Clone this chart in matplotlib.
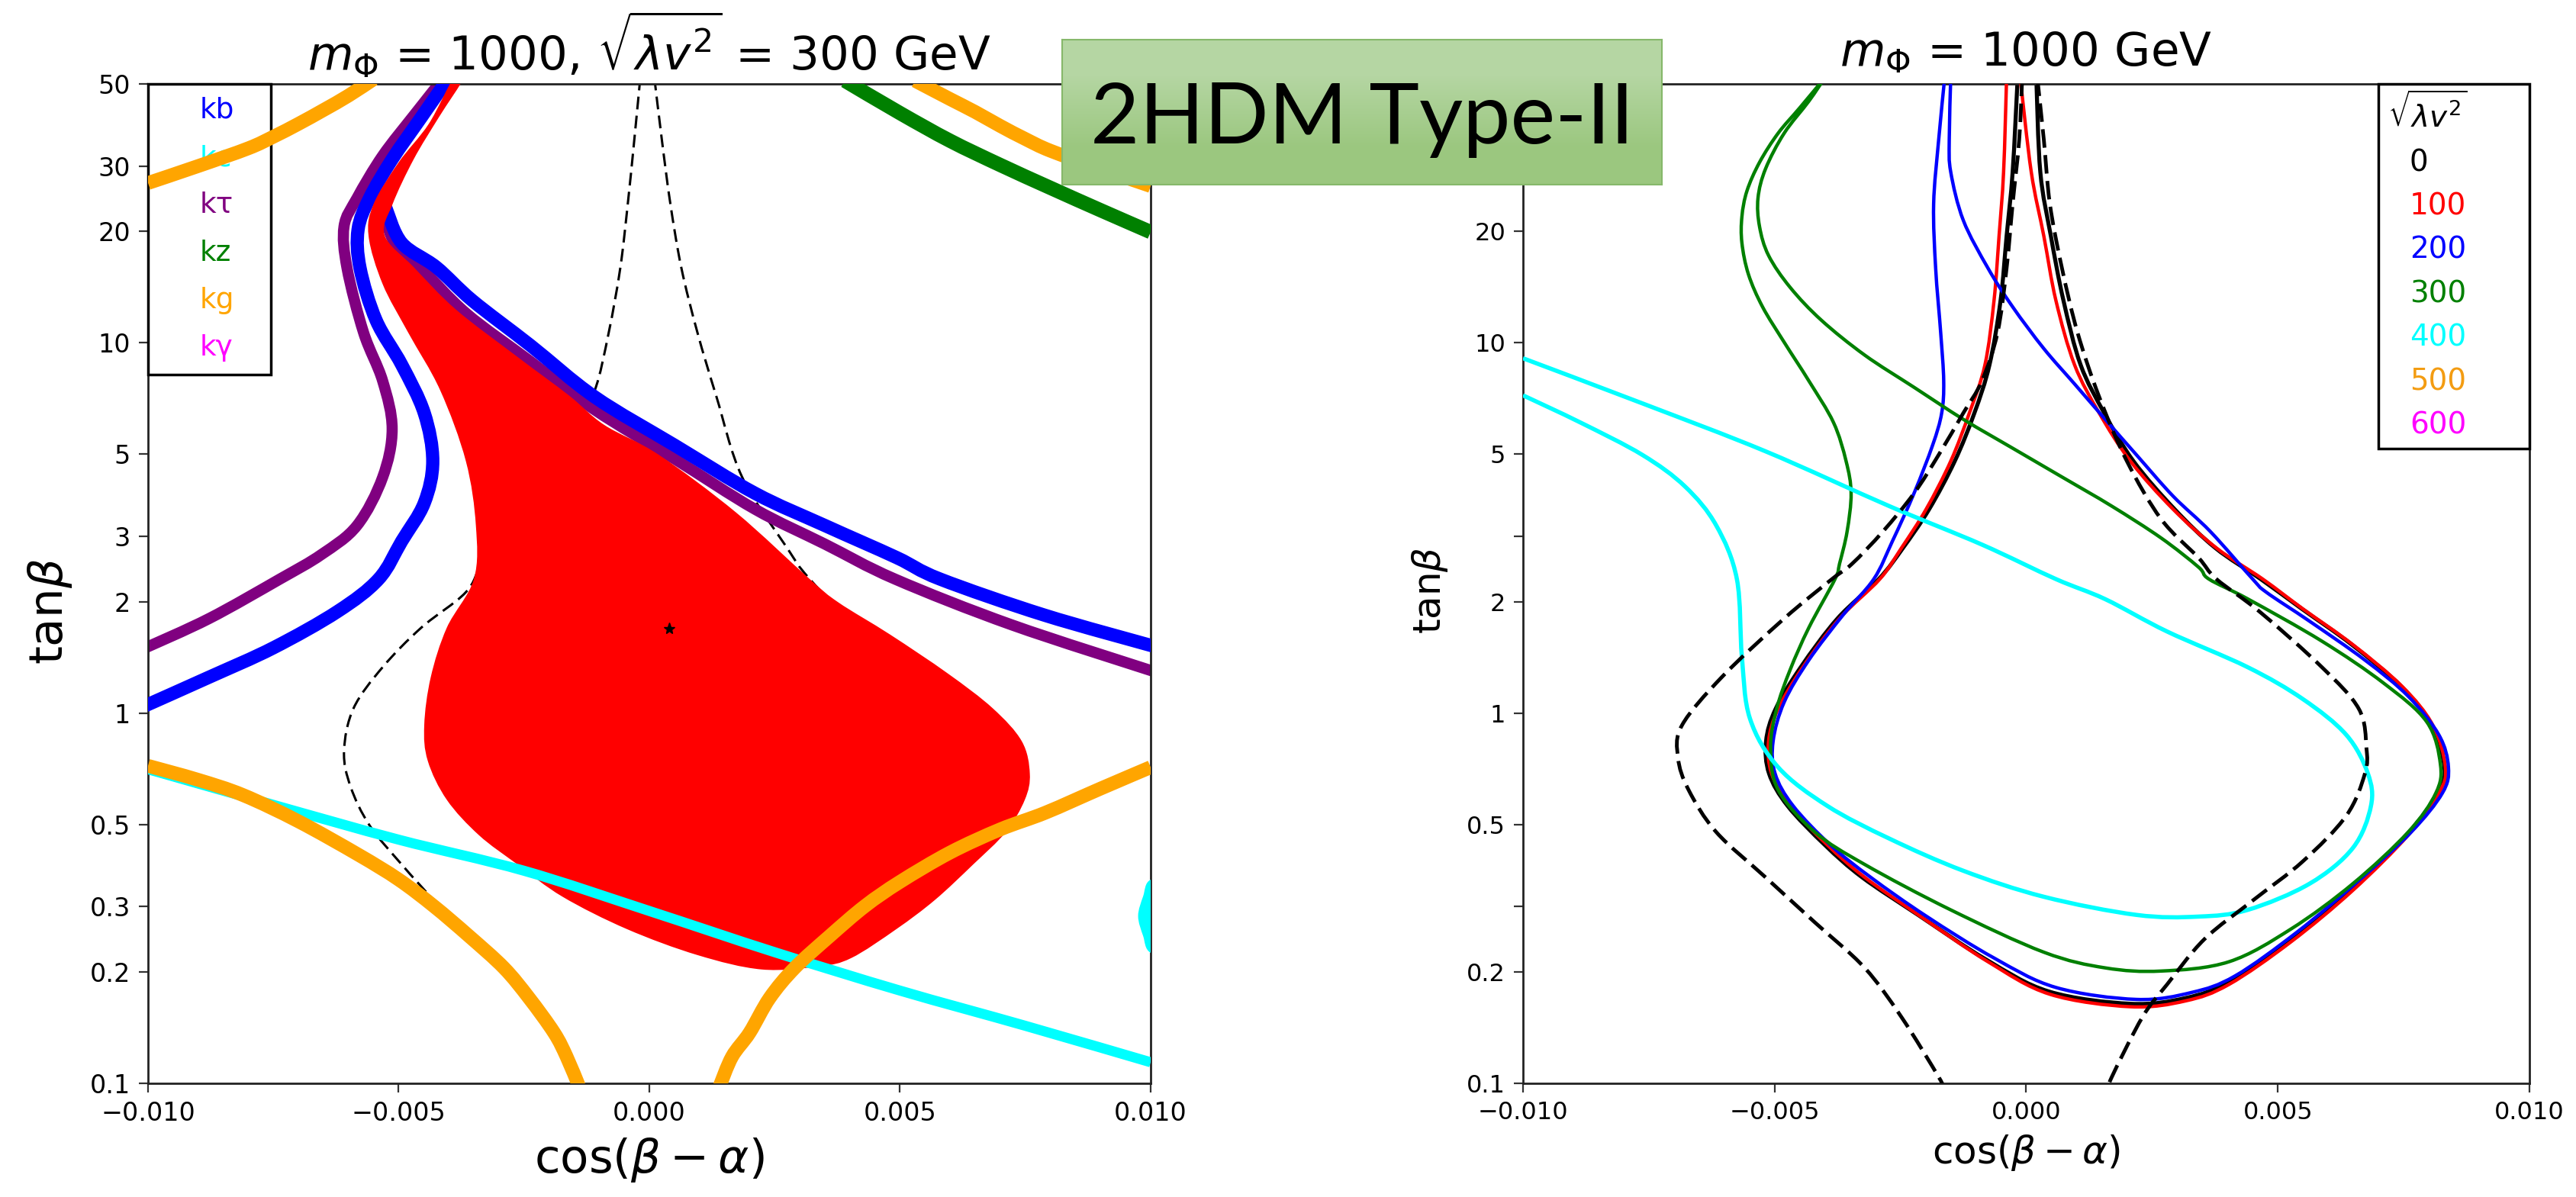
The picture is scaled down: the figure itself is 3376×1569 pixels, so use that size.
import numpy as np
import matplotlib
matplotlib.use("Agg")
import matplotlib.pyplot as plt
from matplotlib.lines import Line2D
from matplotlib.path import Path
from matplotlib.patches import PathPatch
from matplotlib.colors import LinearSegmentedColormap
from matplotlib.ticker import FixedLocator, FixedFormatter, NullLocator, FuncFormatter

plt.rcParams['font.family'] = ['DejaVu Sans']

# ---------------- common axis values
x_ticks = [-0.010, -0.005, 0.000, 0.005, 0.010]
y_ticks = [0.1, 0.2, 0.3, 0.5, 1, 2, 3, 5, 10, 20, 30, 50]
y_labels_left = ['0.1', '0.2', '0.3', '0.5', '1', '2', '3', '5', '10', '20', '30', '50']
y_labels_right = ['0.1', '0.2', '', '0.5', '1', '2', '', '5', '10', '20', '', '']

# ---------------- left panel: m_Phi = 1000, sqrt(lambda v^2) = 300 GeV
kg_ul_x = [-0.0100, -0.0090, -0.0080, -0.0075, -0.0070, -0.0065, -0.0060, -0.0055]
kg_ul_y = [27.0, 30.0, 33.5, 36.0, 39.0, 42.5, 46.5, 51.5]
kg_ur_x = [0.0053, 0.0060, 0.0065, 0.0070, 0.0075, 0.0080, 0.0090, 0.0100]
kg_ur_y = [51.0, 45.5, 42.0, 38.5, 35.5, 33.0, 29.5, 26.5]
kg_ll_x = [-0.0100, -0.0090, -0.0081, -0.0070, -0.0058, -0.0050, -0.0043, -0.0036,
           -0.0029, -0.0024, -0.0019, -0.00165, -0.0014]
kg_ll_y = [0.72, 0.66, 0.60, 0.51, 0.414, 0.355, 0.301, 0.250, 0.205, 0.170, 0.137, 0.118, 0.098]
kg_lr_x = [0.0014, 0.00165, 0.0020, 0.0024, 0.0029, 0.0036, 0.0043, 0.0050, 0.0060,
           0.0070, 0.0079, 0.0090, 0.0100]
kg_lr_y = [0.098, 0.118, 0.137, 0.170, 0.205, 0.250, 0.301, 0.350, 0.420, 0.485, 0.538, 0.625, 0.714]

kc_x = [-0.0100, -0.0075, -0.0050, -0.0025, 0.0000, 0.0025, 0.0050, 0.0075, 0.0100]
kc_y = [0.705, 0.565, 0.455, 0.375, 0.292, 0.226, 0.178, 0.143, 0.114]
kc_edge_x = [0.0106, 0.0100, 0.00985, 0.00975, 0.00985, 0.0100, 0.0106]
kc_edge_y = [0.365, 0.355, 0.320, 0.283, 0.250, 0.225, 0.215]

kz_x = [0.0039, 0.0050, 0.0060, 0.0070, 0.0080, 0.0090, 0.0100]
kz_y = [51.0, 41.7, 35.1, 30.2, 26.2, 22.8, 19.9]

kb_l_x = [-0.0040, -0.00455, -0.00513, -0.00558, -0.00581, -0.00577, -0.00545, -0.00494,
          -0.00449, -0.00432, -0.00449, -0.00494, -0.00540, -0.00622, -0.00750, -0.00878, -0.0101]
kb_l_y = [52.0, 40.6, 31.3, 24.6, 20.2, 15.9, 11.5, 8.72, 6.46, 4.79, 3.69, 2.91, 2.30,
          1.88, 1.50, 1.25, 1.04]
kb_r_x = [-0.00526, -0.00494, -0.00425, -0.00353, -0.00237, -0.00109, 0.00050, 0.00211,
          0.00350, 0.00493, 0.00580, 0.00787, 0.0101]
kb_r_y = [23.2, 18.6, 16.0, 13.0, 9.83, 7.14, 5.29, 3.92, 3.21, 2.63, 2.30, 1.84, 1.51]

ktau_l_x = [-0.0041, -0.00468, -0.00532, -0.00583, -0.00609, -0.00603, -0.00570, -0.00532,
            -0.00513, -0.00532, -0.00583, -0.00654, -0.00737, -0.00878, -0.0101]
ktau_l_y = [52.0, 41.4, 32.0, 24.6, 20.6, 15.9, 10.65, 7.89, 5.85, 4.33, 3.21, 2.68, 2.30,
            1.80, 1.49]
ktau_r_x = [-0.00529, -0.00505, -0.00455, -0.00365, -0.00237, -0.00109, 0.00051, 0.00211,
            0.00350, 0.00490, 0.00723, 0.0101]
ktau_r_y = [21.9, 18.3, 15.9, 12.0, 8.90, 6.59, 4.85, 3.55, 2.86, 2.30, 1.73, 1.29]

allowed_x = [-0.0039, -0.0044, -0.0050, -0.0055, -0.0056, -0.00532, -0.00481, -0.00417,
             -0.00366, -0.00346, -0.00350, -0.00404, -0.00436, -0.00449, -0.00442, -0.00404,
             -0.00340, -0.00263, -0.00173, -0.00045, 0.00096, 0.00224, 0.00339, 0.00403,
             0.00493, 0.00570, 0.00646, 0.00711, 0.00749, 0.00759, 0.00743, 0.00685,
             0.00595, 0.00480, 0.00377, 0.00320, 0.00173, 0.00019, -0.00090, -0.00160,
             -0.00265, -0.00386, -0.00470, -0.00528, -0.00512, -0.0047, -0.0042, -0.0037]
allowed_y = [52.0, 39.0, 30.7, 23.7, 19.4, 14.4, 10.65, 7.43, 4.79, 3.21, 2.30, 1.70, 1.25,
             0.927, 0.743, 0.583, 0.468, 0.390, 0.319, 0.261, 0.222, 0.203, 0.207, 0.218,
             0.261, 0.313, 0.390, 0.477, 0.583, 0.686, 0.839, 1.03, 1.28, 1.63, 1.99, 2.30,
             3.48, 4.98, 6.0, 7.2, 9.2, 12.3, 16.0, 19.5, 23.7, 31.3, 40.6, 52.0]
best_x = [0.0004]
best_y = [1.69]

sm_a_x = [-0.00018, -0.00030, -0.00043, -0.00058, -0.00081, -0.00109, -0.0015, -0.0025,
          -0.0033, -0.00366, -0.00455, -0.00532, -0.00590, -0.00609, -0.00596, -0.00558,
          -0.00494, -0.00430, -0.00391, -0.00365]
sm_a_y = [52.0, 35.3, 23.7, 15.9, 10.65, 7.43, 6.0, 3.8, 2.6, 2.12, 1.70, 1.33, 1.03, 0.789,
          0.633, 0.497, 0.390, 0.313, 0.283, 0.255]
sm_b_x = [0.00010, 0.00025, 0.00042, 0.00064, 0.00096, 0.00134, 0.00185, 0.00275, 0.00320,
          0.0045, 0.0058, 0.0062, 0.0060, 0.0052, 0.0042]
sm_b_y = [52.0, 35.3, 23.7, 15.9, 10.65, 7.14, 4.34, 2.79, 2.30, 1.5, 1.0, 0.72, 0.55, 0.42, 0.32]

left_labels = ['kb', 'kc', 'k\u03c4', 'kz', 'kg', 'k\u03b3']
left_colors = ['#0000ff', '#00ffff', '#800080', '#008000', '#ffa500', '#ff00ff']

# ---------------- right panel: m_Phi = 1000 GeV, several sqrt(lambda v^2)
lam0_x = [-0.00017, -0.00027, -0.00039, -0.00051, -0.00073, -0.00103, -0.00142, -0.00193,
          -0.00245, -0.00293, -0.00375, -0.00448, -0.00498, -0.00517, -0.00511, -0.00474,
          -0.00400, -0.00326, -0.00215, -0.00080, 0.00045, 0.00207, 0.00317, 0.00403,
          0.00526, 0.00649, 0.00757, 0.00818, 0.00831, 0.00806, 0.00745, 0.00647, 0.00548,
          0.00466, 0.00376, 0.00295, 0.00213, 0.00155, 0.00108, 0.00074, 0.00049, 0.00028,
          0.00020]
lam0_y = [52.0, 28.9, 19.4, 13.0, 8.72, 6.46, 4.79, 3.55, 2.79, 2.30, 1.80, 1.33, 1.026,
          0.839, 0.686, 0.561, 0.440, 0.360, 0.285, 0.216, 0.177, 0.164, 0.170, 0.188, 0.244,
          0.335, 0.470, 0.608, 0.714, 0.927, 1.18, 1.53, 1.91, 2.30, 2.79, 3.55, 4.79, 6.46,
          8.72, 13.0, 19.4, 28.9, 52.0]
lam100_x = [-0.00039, -0.00045, -0.00054, -0.00064, -0.00082, -0.00113, -0.00150, -0.00199,
            -0.00248, -0.00291, -0.00371, -0.00444, -0.00493, -0.00512, -0.00506, -0.00469,
            -0.00395, -0.00321, -0.00211, -0.00076, 0.00047, 0.00207, 0.00317, 0.00403,
            0.00526, 0.00649, 0.00759, 0.00820, 0.00833, 0.00808, 0.00747, 0.00649, 0.00550,
            0.00470, 0.00378, 0.00292, 0.00207, 0.00145, 0.00096, 0.00059, 0.00035, 0.00010,
            -0.00012]
lam100_y = [52.0, 28.9, 19.4, 13.0, 8.72, 6.46, 4.79, 3.55, 2.79, 2.30, 1.80, 1.33, 1.026,
            0.839, 0.686, 0.561, 0.440, 0.360, 0.283, 0.213, 0.174, 0.161, 0.167, 0.185, 0.241,
            0.332, 0.468, 0.608, 0.714, 0.927, 1.18, 1.53, 1.91, 2.30, 2.79, 3.55, 4.79, 6.46,
            8.72, 13.0, 19.4, 28.9, 52.0]
lam200_x = [-0.00162, -0.00174, -0.00184, -0.00180, -0.00170, -0.00164, -0.00168, -0.00186,
            -0.00223, -0.00266, -0.00303, -0.00364, -0.00432, -0.00481, -0.00503, -0.00499,
            -0.00463, -0.00389, -0.00309, -0.00199, -0.00064, 0.00059, 0.00219, 0.00329,
            0.00415, 0.00538, 0.00661, 0.00765, 0.00827, 0.00839, 0.00820, 0.00759, 0.00673,
            0.00563, 0.00477, 0.00450, 0.00366, 0.00292, 0.00219, 0.00157, 0.00096, 0.00035,
            -0.00027, -0.00076, -0.00125, -0.00150, -0.00153, -0.00150]
lam200_y = [52.0, 35.3, 23.7, 15.9, 10.65, 7.89, 6.46, 5.29, 3.92, 2.91, 2.30, 1.84, 1.39,
            1.07, 0.839, 0.686, 0.561, 0.440, 0.360, 0.283, 0.218, 0.1815, 0.1685, 0.176,
            0.195, 0.256, 0.353, 0.477, 0.608, 0.714, 0.873, 1.11, 1.39, 1.77, 2.12, 2.30,
            3.09, 3.85, 4.98, 6.21, 7.74, 9.64, 12.5, 15.9, 21.4, 28.9, 35.3, 52.0]
lam300_x = [-0.0040, -0.00450, -0.00493, -0.00530, -0.00555, -0.00565, -0.00565, -0.00552,
            -0.00524, -0.00481, -0.00432, -0.00383, -0.00358, -0.00348, -0.00356, -0.00371,
            -0.00380, -0.00432, -0.00469, -0.00496, -0.00508, -0.00493, -0.00420, -0.00321,
            -0.00150, 0.00035, 0.00157, 0.00268, 0.00403, 0.00526, 0.00649, 0.00759, 0.00814,
            0.00823, 0.00796, 0.00710, 0.00587, 0.00440, 0.00363, 0.00342, 0.00268, 0.00170,
            0.00071, -0.00027, -0.00125, -0.00223, -0.00321, -0.00407, -0.00469, -0.00512,
            -0.00530, -0.00533, -0.00518, -0.00481, -0.00432, -0.0040]
lam300_y = [52.0, 43.1, 36.8, 30.7, 25.7, 21.9, 18.6, 15.3, 12.5, 10.03, 7.89, 6.09, 4.79,
            3.92, 3.09, 2.53, 2.30, 1.70, 1.31, 1.026, 0.806, 0.620, 0.477, 0.390, 0.294,
            0.226, 0.205, 0.201, 0.213, 0.261, 0.346, 0.477, 0.608, 0.728, 0.946, 1.205,
            1.565, 2.034, 2.30, 2.48, 2.97, 3.62, 4.34, 5.19, 6.21, 7.58, 9.26, 11.5, 14.1,
            17.2, 20.6, 24.6, 29.5, 36.8, 44.9, 52.0]
lam400_x = [-0.0100, -0.00763, -0.00518, -0.00272, -0.00088, 0.00059, 0.00157, 0.00280,
            0.00440, 0.00550, 0.00636, 0.00679, 0.00685, 0.00649, 0.00563, 0.00440, 0.00342,
            0.00219, 0.00035, -0.00125, -0.00272, -0.00395, -0.00493, -0.00549, -0.00565,
            -0.00575, -0.00616, -0.00678, -0.00763, -0.00886, -0.0100]
lam400_y = [9.08, 6.86, 5.09, 3.62, 2.85, 2.30, 2.03, 1.66, 1.33, 1.09, 0.873, 0.686, 0.561,
            0.432, 0.346, 0.294, 0.282, 0.285, 0.319, 0.375, 0.458, 0.561, 0.714, 0.966,
            1.416, 2.30, 3.21, 4.09, 4.98, 6.09, 7.21]
smr_a_x = [-0.00008, -0.00014, -0.00027, -0.00039, -0.00057, -0.00088, -0.00125, -0.00174,
           -0.00223, -0.00285, -0.00346, -0.00386, -0.00481, -0.00604, -0.00684, -0.00692,
           -0.00671, -0.00616, -0.00518, -0.00420, -0.00321, -0.00248, -0.00174, -0.00166]
smr_a_y = [52.0, 35.3, 23.7, 15.9, 10.65, 7.89, 6.46, 4.98, 3.92, 3.09, 2.53, 2.30, 1.80,
           1.254, 0.927, 0.758, 0.620, 0.477, 0.360, 0.272, 0.205, 0.151, 0.104, 0.098]
smr_b_x = [0.00022, 0.00035, 0.00047, 0.00071, 0.00102, 0.00145, 0.00200, 0.00268, 0.00342,
           0.00378, 0.00464, 0.00587, 0.00661, 0.00676, 0.00673, 0.00636, 0.00550, 0.00452,
           0.00354, 0.00280, 0.00231, 0.00170, 0.00166]
smr_b_y = [52.0, 35.3, 23.7, 15.9, 10.65, 7.14, 4.79, 3.34, 2.63, 2.30, 1.877, 1.332, 1.026,
           0.806, 0.686, 0.528, 0.398, 0.313, 0.245, 0.185, 0.151, 0.104, 0.098]

right_labels = ['0', '100', '200', '300', '400', '500', '600']
right_colors = ['#000000', '#ff0000', '#0000ff', '#008000', '#00ffff', '#f39c12', '#ff00ff']


# ---------------- helpers: smooth curve through the read points (log-y space)
def smooth_path(xs, ys, closed=False):
    p = np.column_stack([np.asarray(xs, float), np.log10(np.asarray(ys, float))])
    n = len(p)
    if closed:
        ext = np.vstack([p[-1], p, p[0], p[1]])
        segs = n
    else:
        ext = np.vstack([p[0], p, p[-1]])
        segs = n - 1
    verts = [ext[1]]
    codes = [Path.MOVETO]
    for i in range(segs):
        a, b, c, d = ext[i], ext[i + 1], ext[i + 2], ext[i + 3]
        verts += [b + (c - a) / 6.0, c - (d - b) / 6.0, c]
        codes += [Path.CURVE4] * 3
    if closed:
        verts.append(ext[1])
        codes.append(Path.CLOSEPOLY)
    v = np.array(verts)
    v[:, 1] = 10.0 ** v[:, 1]
    return Path(v, codes)


def curve(ax, xs, ys, color, lw, z, ls='-', cap='butt'):
    ax.add_patch(PathPatch(smooth_path(xs, ys), facecolor='none', edgecolor=color, lw=lw,
                           ls=ls, zorder=z, capstyle=cap, joinstyle='round'))


def region(ax, xs, ys, color, z):
    ax.add_patch(PathPatch(smooth_path(xs, ys, closed=True), facecolor=color,
                           edgecolor='none', lw=0, zorder=z))


# ---------------- figure
fig = plt.figure(figsize=(33.76, 15.69), dpi=100, facecolor='white')
ax1 = fig.add_axes([0.05746, 0.09497, 0.38922, 0.83493])
ax2 = fig.add_axes([0.59123, 0.09497, 0.39070, 0.83493])


def style_axes(ax, ylabels, tick_fs):
    ax.set_xlim(-0.010, 0.010)
    ax.set_yscale('log')
    ax.set_ylim(0.1, 50)
    ax.yaxis.set_major_locator(FixedLocator(y_ticks))
    ax.yaxis.set_major_formatter(FixedFormatter(ylabels))
    ax.yaxis.set_minor_locator(NullLocator())
    ax.xaxis.set_major_locator(FixedLocator(x_ticks))
    ax.xaxis.set_major_formatter(FuncFormatter(lambda v, p: f"{v:.3f}".replace('-', '\u2212')))
    ax.tick_params(axis='both', which='major', labelsize=tick_fs, length=8.5, width=1.6,
                   pad=8, color='#333333')
    for s in ax.spines.values():
        s.set_linewidth(2.0)
        s.set_color('#222222')


style_axes(ax1, y_labels_left, 24)
style_axes(ax2, y_labels_right, 23)

# ---- left panel marks
dash_l = (0, (5.5, 2.7))
curve(ax1, sm_a_x, sm_a_y, 'black', 2.2, 1, ls=dash_l)
curve(ax1, sm_b_x, sm_b_y, 'black', 2.2, 1, ls=dash_l)
curve(ax1, ktau_l_x, ktau_l_y, '#800080', 10.5, 2)
curve(ax1, ktau_r_x, ktau_r_y, '#800080', 10.5, 2, cap='round')
curve(ax1, kb_l_x, kb_l_y, '#0000ff', 12.5, 3)
curve(ax1, kb_r_x, kb_r_y, '#0000ff', 12.5, 3, cap='round')
region(ax1, allowed_x, allowed_y, '#ff0000', 4)
ax1.plot(best_x, best_y, marker='*', color='black', ms=11, ls='none', zorder=9)
curve(ax1, kz_x, kz_y, '#008000', 13.5, 5)
curve(ax1, kc_x, kc_y, '#00ffff', 9.5, 6)
region(ax1, kc_edge_x, kc_edge_y, '#00ffff', 6)
for xs, ys in [(kg_ul_x, kg_ul_y), (kg_ur_x, kg_ur_y), (kg_ll_x, kg_ll_y), (kg_lr_x, kg_lr_y)]:
    curve(ax1, xs, ys, '#ffa500', 13, 7)

h1 = [Line2D([], [], linestyle='none') for _ in left_labels]
leg1 = ax1.legend(h1, left_labels, loc='upper left', bbox_to_anchor=(0, 0, 0.1225, 1),
                  mode='expand', borderaxespad=0, handlelength=0, handletextpad=1.36,
                  borderpad=0.45, labelspacing=0.7, fontsize=27, frameon=True,
                  fancybox=False, edgecolor='black', framealpha=1, labelcolor=left_colors)
leg1.get_frame().set_linewidth(2.5)

ax1.set_title(r'$m_{\Phi}$ = 1000, $\sqrt{\lambda v^2}$ = 300 GeV', fontsize=44, pad=13)
ax1.set_xlabel(r'$\cos(\beta-\alpha)$', fontsize=44)
ax1.set_ylabel(r'$\mathrm{tan}\beta$', fontsize=44)
ax1.xaxis.set_label_coords(0.5, -0.053)
ax1.yaxis.set_label_coords(-0.074, 0.472)

# ---- right panel marks
lw_r = 3.2
curve(ax2, lam0_x, lam0_y, '#000000', lw_r + 0.6, 2)
curve(ax2, lam100_x, lam100_y, '#ff0000', lw_r, 3)
curve(ax2, lam200_x, lam200_y, '#0000ff', lw_r, 4)
curve(ax2, lam300_x, lam300_y, '#008000', lw_r, 5)
curve(ax2, lam400_x, lam400_y, '#00ffff', lw_r + 0.8, 6)
dash_r = (0, (5, 2))
curve(ax2, smr_a_x, smr_a_y, 'black', 3.5, 7, ls=dash_r)
curve(ax2, smr_b_x, smr_b_y, 'black', 3.5, 7, ls=dash_r)

h2 = [Line2D([], [], linestyle='none') for _ in right_labels]
leg2 = ax2.legend(h2, right_labels, loc='upper right', bbox_to_anchor=(0.85, 0, 0.15, 1),
                  mode='expand', borderaxespad=0, handlelength=0, handletextpad=0.75,
                  borderpad=0.3, labelspacing=0.5, fontsize=28, title=r'$\sqrt{\lambda v^2}$',
                  title_fontsize=28, alignment='left', frameon=True, fancybox=False,
                  edgecolor='black', framealpha=1, labelcolor=right_colors)
leg2.get_frame().set_linewidth(2.5)
leg2.set_zorder(20)

ax2.set_title(r'$m_{\Phi}$ = 1000 GeV', fontsize=44, pad=17)
ax2.set_xlabel(r'$\cos(\beta-\alpha)$', fontsize=36)
ax2.set_ylabel(r'$\mathrm{tan}\beta$', fontsize=36)
ax2.xaxis.set_label_coords(0.5, -0.050)
ax2.yaxis.set_label_coords(-0.073, 0.493)

# ---- green banner
axb = fig.add_axes([0.41232, 0.84576, 0.23282, 0.12110], zorder=10)
cmap = LinearSegmentedColormap.from_list('banner', ['#b5d6a3', '#9bc77f'])
axb.imshow([[0.0], [1.0]], cmap=cmap, aspect='auto', extent=(0, 1, 0, 1),
           interpolation='bilinear', origin='upper')
axb.set_xlim(0, 1)
axb.set_ylim(0, 1)
axb.set_xticks([])
axb.set_yticks([])
for s in axb.spines.values():
    s.set_color('#86b86a')
    s.set_linewidth(1.5)
axb.text(0.5, 0.284, '2HDM Type-II', ha='center', va='baseline', fontsize=80,
         family=['Lato', 'DejaVu Sans'], color='black')

fig.savefig('out.png', dpi=100, facecolor='white')
